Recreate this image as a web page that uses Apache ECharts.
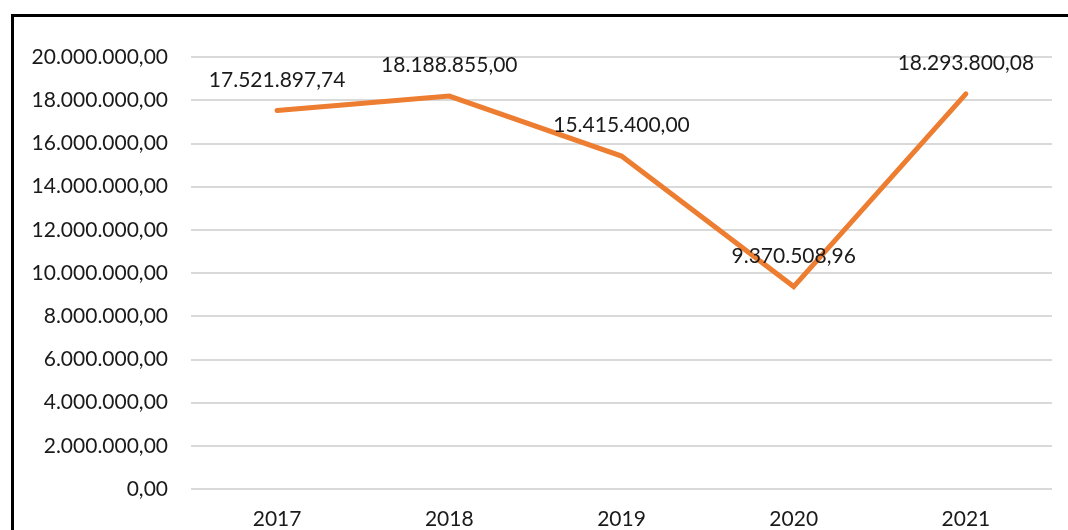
<!DOCTYPE html>
<html><head><meta charset="utf-8">
<script src="https://cdn.jsdelivr.net/npm/echarts@6/dist/echarts.min.js"></script>
<style>html,body{margin:0;padding:0;background:#fff}#c{width:1068px;height:530px}</style>
</head><body><div id="c"></div>
<script>
var categories = ['2017', '2018', '2019', '2020', '2021'];
var values = [17521897.74, 18188855.00, 15415400.00, 9370508.96, 18293800.08];

function fmt(v) {
  var parts = v.toFixed(2).split('.');
  var intPart = parts[0].replace(/\B(?=(\d{3})+(?!\d))/g, '.');
  return intPart + ',' + parts[1];
}
var FONT = 'Lato';
var FS = 21;
var chart = echarts.init(document.getElementById('c'));
chart.setOption({
  animation: false,
  backgroundColor: '#fff',
  graphic: [{
    type: 'rect', left: 10, top: 13, z: 100, silent: true,
    shape: { x: 0, y: 0, width: 1100, height: 600 },
    style: { fill: 'none', stroke: '#000', lineWidth: 3 }
  }],
  grid: { left: 191, right: 16, top: 57, bottom: 39, containLabel: false },
  xAxis: {
    type: 'category', data: categories, boundaryGap: true,
    axisLine: { show: false }, axisTick: { show: false },
    axisLabel: { color: '#1a1a1a', fontFamily: FONT, fontSize: FS, margin: 20 }
  },
  yAxis: {
    type: 'value', min: 0, max: 20000000, interval: 2000000,
    axisLine: { show: false }, axisTick: { show: false },
    splitLine: { lineStyle: { color: '#d9d9d9', width: 2 } },
    axisLabel: { color: '#1a1a1a', fontFamily: FONT, fontSize: FS, margin: 23, formatter: function (v) { return fmt(v); } }
  },
  series: [{
    type: 'line', data: values, showSymbol: true, symbol: 'circle', symbolSize: 0,
    lineStyle: { color: '#ED7D31', width: 5, cap: 'round', join: 'miter' },
    itemStyle: { color: '#ED7D31' },
    label: {
      show: true, position: 'top', distance: 20, color: '#1a1a1a',
      fontFamily: FONT, fontSize: FS,
      formatter: function (p) { return fmt(p.value); }
    }
  }]
});
</script></body></html>
